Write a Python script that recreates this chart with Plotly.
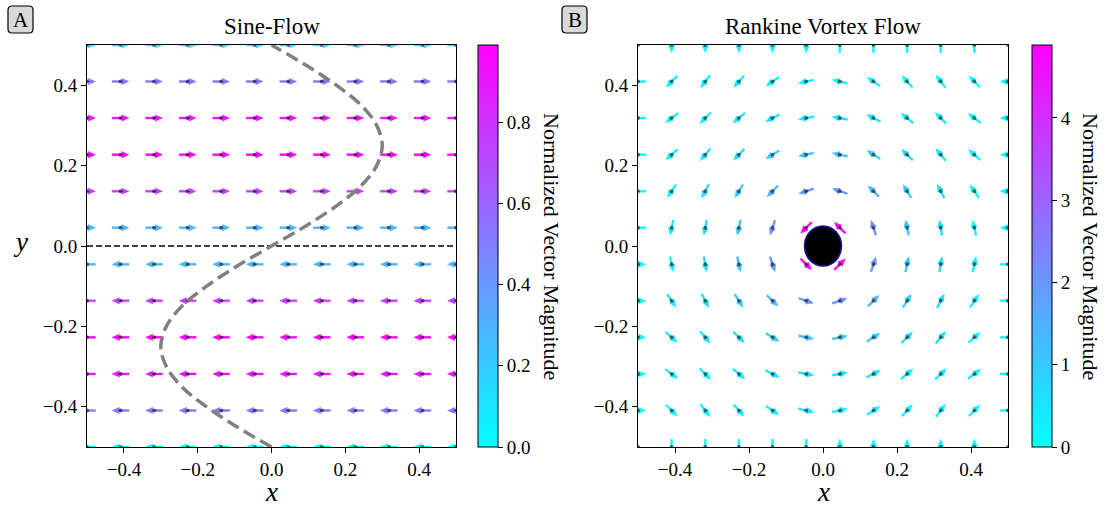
import math
import plotly.graph_objects as go

W, H = 1109, 508
FONT = "Liberation Serif"

# Sample positions shared by both flow fields (x and y)
GRID = [-0.5, -0.4091, -0.3182, -0.2273, -0.1364, -0.0455,
        0.0455, 0.1364, 0.2273, 0.3182, 0.4091, 0.5]

# Sine flow: horizontal speed of each row of GRID (v = 0).
# Signed zeros at the walls keep the sense of the flow there.
SINE_U = [-0.0, -0.541, -0.910, -0.990, -0.756, -0.282,
          0.282, 0.756, 0.990, 0.910, 0.541, 0.0]

# Dashed sine profile
SINE_CURVE_Y = [-0.5, -0.45, -0.4, -0.35, -0.3, -0.25, -0.2, -0.15, -0.1, -0.05, 0.0,
                0.05, 0.1, 0.15, 0.2, 0.25, 0.3, 0.35, 0.4, 0.45, 0.5]
SINE_CURVE_X = [0.0, -0.093, -0.176, -0.243, -0.285, -0.300, -0.285, -0.243, -0.176, -0.093, 0.0,
                0.093, 0.176, 0.243, 0.285, 0.300, 0.285, 0.243, 0.176, 0.093, 0.0]

# Rankine vortex: velocity components, rows = GRID y (bottom to top), cols = GRID x
VORTEX_U = [
    [0, 0, 0, 0, 0, 0, 0, 0, 0, 0, 0, 0],
    [0.087, 0.098, 0.132, 0.186, 0.248, 0.291, 0.291, 0.248, 0.186, 0.132, 0.098, 0.087],
    [0.152, 0.174, 0.243, 0.362, 0.513, 0.632, 0.632, 0.513, 0.362, 0.243, 0.174, 0.152],
    [0.173, 0.203, 0.302, 0.496, 0.804, 1.109, 1.109, 0.804, 0.496, 0.302, 0.203, 0.173],
    [0.138, 0.166, 0.265, 0.500, 1.036, 1.963, 1.963, 1.036, 0.500, 0.265, 0.166, 0.138],
    [0.053, 0.065, 0.109, 0.231, 0.657, 3.455, 3.455, 0.657, 0.231, 0.109, 0.065, 0.053],
    [-0.053, -0.065, -0.109, -0.231, -0.657, -3.455, -3.455, -0.657, -0.231, -0.109, -0.065, -0.053],
    [-0.138, -0.166, -0.265, -0.500, -1.036, -1.963, -1.963, -1.036, -0.500, -0.265, -0.166, -0.138],
    [-0.173, -0.203, -0.302, -0.496, -0.804, -1.109, -1.109, -0.804, -0.496, -0.302, -0.203, -0.173],
    [-0.152, -0.174, -0.243, -0.362, -0.513, -0.632, -0.632, -0.513, -0.362, -0.243, -0.174, -0.152],
    [-0.087, -0.098, -0.132, -0.186, -0.248, -0.291, -0.291, -0.248, -0.186, -0.132, -0.098, -0.087],
    [0, 0, 0, 0, 0, 0, 0, 0, 0, 0, 0, 0],
]
VORTEX_V = [
    [0, -0.087, -0.152, -0.173, -0.138, -0.053, 0.053, 0.138, 0.173, 0.152, 0.087, 0],
    [0, -0.098, -0.174, -0.203, -0.166, -0.065, 0.065, 0.166, 0.203, 0.174, 0.098, 0],
    [0, -0.132, -0.243, -0.302, -0.265, -0.109, 0.109, 0.265, 0.302, 0.243, 0.132, 0],
    [0, -0.186, -0.362, -0.496, -0.500, -0.231, 0.231, 0.500, 0.496, 0.362, 0.186, 0],
    [0, -0.248, -0.513, -0.804, -1.036, -0.657, 0.657, 1.036, 0.804, 0.513, 0.248, 0],
    [0, -0.291, -0.632, -1.109, -1.963, -3.455, 3.455, 1.963, 1.109, 0.632, 0.291, 0],
    [0, -0.291, -0.632, -1.109, -1.963, -3.455, 3.455, 1.963, 1.109, 0.632, 0.291, 0],
    [0, -0.248, -0.513, -0.804, -1.036, -0.657, 0.657, 1.036, 0.804, 0.513, 0.248, 0],
    [0, -0.186, -0.362, -0.496, -0.500, -0.231, 0.231, 0.500, 0.496, 0.362, 0.186, 0],
    [0, -0.132, -0.243, -0.302, -0.265, -0.109, 0.109, 0.265, 0.302, 0.243, 0.132, 0],
    [0, -0.098, -0.174, -0.203, -0.166, -0.065, 0.065, 0.166, 0.203, 0.174, 0.098, 0],
    [0, -0.087, -0.152, -0.173, -0.138, -0.053, 0.053, 0.138, 0.173, 0.152, 0.087, 0],
]
CORE_RADIUS = 0.05

TICKS = [-0.4, -0.2, 0.0, 0.2, 0.4]
CBAR_A_TICKS = [0.0, 0.2, 0.4, 0.6, 0.8]
CBAR_B_TICKS = [0, 1, 2, 3, 4]

COOL = [[0.0, "rgb(0,255,255)"], [1.0, "rgb(255,0,255)"]]

# subplot boxes in pixels (left, right, top, bottom)
BOX_A = (87, 456, 45, 447)
BOX_B = (638, 1008, 45, 447)


def cool(t):
    t = min(max(t, 0.0), 1.0)
    return "rgb(%d,%d,255)" % (round(255 * t), round(255 * (1 - t)))


def px2paper_x(px):
    return px / W


def px2paper_y(py):
    return 1 - py / H


def arrow_traces(xs, ys, us, vs, vmax, box, length, xa, ya, skip_zero):
    """Unit-length filled quiver arrows (pivot at the middle), coloured by speed."""
    sx = (box[1] - box[0]) / 1.0
    sy = (box[3] - box[2]) / 1.0
    w, hw, hl, hal = 2.0, 6.5, 7.5, 6.8
    L = length
    outline = [(-L / 2, -w / 2), (L / 2 - hal, -w / 2), (L / 2 - hl, -hw / 2), (L / 2, 0.0),
               (L / 2 - hl, hw / 2), (L / 2 - hal, w / 2), (-L / 2, w / 2), (-L / 2, -w / 2)]
    groups = {}
    for x, y, u, v in zip(xs, ys, us, vs):
        if skip_zero and u == 0 and v == 0:
            continue
        ang = math.atan2(v, u)
        ca, sa = math.cos(ang), math.sin(ang)
        col = cool(math.hypot(u, v) / vmax)
        gx, gy = groups.setdefault(col, ([], []))
        for s, t in outline:
            gx.append(x + (s * ca - t * sa) / sx)
            gy.append(y + (s * sa + t * ca) / sy)
        gx.append(None)
        gy.append(None)
    traces = []
    for col, (gx, gy) in groups.items():
        traces.append(go.Scatter(x=gx, y=gy, mode="lines", fill="toself", fillcolor=col,
                                 line=dict(width=0.4, color=col), xaxis=xa, yaxis=ya,
                                 hoverinfo="skip", showlegend=False))
    return traces


def colorbar_trace(vmax, x_px, ticks, fmt):
    return go.Scatter(
        x=[None], y=[None], mode="markers", hoverinfo="skip", showlegend=False,
        marker=dict(color=[0], cmin=0, cmax=vmax, colorscale=COOL, showscale=True,
                    colorbar=dict(x=px2paper_x(x_px), xanchor="left", xref="paper",
                                  y=px2paper_y(246), yanchor="middle", yref="paper",
                                  len=(BOX_A[3] - BOX_A[2]) / H, lenmode="fraction",
                                  xpad=0, ypad=0,
                                  thickness=20, outlinewidth=1, outlinecolor="black",
                                  ticks="outside", ticklen=5, tickwidth=1, tickcolor="black",
                                  tickvals=ticks, tickformat=fmt,
                                  tickfont=dict(family=FONT, size=19, color="black"))))


fig = go.Figure()

# ---- Panel A: sine flow ----
ax, ay, au, av = [], [], [], []
for yi, u in zip(GRID, SINE_U):
    for xi in GRID:
        ax.append(xi)
        ay.append(yi)
        au.append(u)
        av.append(0.0)
vmax_a = max(abs(u) for u in SINE_U)
for tr in arrow_traces(ax, ay, au, av, vmax_a, BOX_A, 17.0, "x", "y", False):
    fig.add_trace(tr)
fig.add_trace(go.Scatter(x=ax, y=ay, mode="markers", xaxis="x", yaxis="y",
                         marker=dict(size=4, color="rgba(0,0,0,0.55)", line=dict(width=0)),
                         hoverinfo="skip", showlegend=False))
fig.add_trace(go.Scatter(x=[GRID[0], GRID[-1]], y=[0, 0], mode="lines", xaxis="x", yaxis="y",
                         line=dict(color="black", width=1.3, dash="6px,3px"),
                         hoverinfo="skip", showlegend=False))
fig.add_trace(go.Scatter(x=SINE_CURVE_X, y=SINE_CURVE_Y, mode="lines", xaxis="x", yaxis="y",
                         line=dict(color="#808080", width=3.5, dash="13px,6px", shape="spline"),
                         hoverinfo="skip", showlegend=False))
fig.add_trace(colorbar_trace(vmax_a, 478, CBAR_A_TICKS, ".1f"))

# ---- Panel B: Rankine vortex ----
bx, by, bu, bv = [], [], [], []
for r, yi in enumerate(GRID):
    for c, xi in enumerate(GRID):
        bx.append(xi)
        by.append(yi)
        bu.append(VORTEX_U[r][c])
        bv.append(VORTEX_V[r][c])
vmax_b = max(math.hypot(u, v) for u, v in zip(bu, bv))
for tr in arrow_traces(bx, by, bu, bv, vmax_b, BOX_B, 15.5, "x2", "y2", True):
    fig.add_trace(tr)
fig.add_trace(go.Scatter(x=bx, y=by, mode="markers", xaxis="x2", yaxis="y2",
                         marker=dict(size=4, color="rgba(0,0,0,0.55)", line=dict(width=0)),
                         hoverinfo="skip", showlegend=False))
fig.add_trace(colorbar_trace(vmax_b, 1032, CBAR_B_TICKS, "d"))

axis_common = dict(range=[-0.5, 0.5], showgrid=False, zeroline=False, showline=True, mirror=True,
                   linecolor="black", linewidth=1, ticks="outside", ticklen=5, tickwidth=1,
                   tickcolor="black", tickvals=TICKS, tickformat=".1f",
                   tickfont=dict(family=FONT, size=19, color="black"))
ydom = [px2paper_y(BOX_A[3]), px2paper_y(BOX_A[2])]
fig.update_layout(
    width=W, height=H, margin=dict(l=0, r=0, t=0, b=0),
    paper_bgcolor="white", plot_bgcolor="white", showlegend=False,
    xaxis=dict(domain=[px2paper_x(BOX_A[0]), px2paper_x(BOX_A[1])], anchor="y", **axis_common),
    yaxis=dict(domain=ydom, anchor="x", **axis_common),
    xaxis2=dict(domain=[px2paper_x(BOX_B[0]), px2paper_x(BOX_B[1])], anchor="y2", **axis_common),
    yaxis2=dict(domain=ydom, anchor="x2", **axis_common),
)

# vortex core
fig.add_shape(type="circle", xref="x2", yref="y2", x0=-CORE_RADIUS, x1=CORE_RADIUS,
              y0=-CORE_RADIUS, y1=CORE_RADIUS, fillcolor="black",
              line=dict(color="#1414a0", width=1.5), layer="above")


def rounded_box(x0, y0, x1, y1, r):
    def p(x, y):
        return "%.5f,%.5f" % (px2paper_x(x), px2paper_y(y))
    return ("M " + p(x0 + r, y0) + " L " + p(x1 - r, y0) + " Q " + p(x1, y0) + " " + p(x1, y0 + r) +
            " L " + p(x1, y1 - r) + " Q " + p(x1, y1) + " " + p(x1 - r, y1) +
            " L " + p(x0 + r, y1) + " Q " + p(x0, y1) + " " + p(x0, y1 - r) +
            " L " + p(x0, y0 + r) + " Q " + p(x0, y0) + " " + p(x0 + r, y0) + " Z")


for (x0, label) in [(8, "A"), (562, "B")]:
    fig.add_shape(type="path", xref="paper", yref="paper", path=rounded_box(x0, 6, x0 + 25, 33, 4),
                  fillcolor="#d9d9d9", line=dict(color="black", width=1.2), layer="above")
    fig.add_annotation(x=px2paper_x(x0 + 12.5), y=px2paper_y(19.5), xref="paper", yref="paper",
                       text=label, showarrow=False, xanchor="center", yanchor="middle",
                       font=dict(family=FONT, size=21, color="black"))


def text(x, y, s, size, angle=0):
    fig.add_annotation(x=px2paper_x(x), y=px2paper_y(y), xref="paper", yref="paper", text=s,
                       showarrow=False, xanchor="center", yanchor="middle", textangle=angle,
                       font=dict(family=FONT, size=size, color="black"))


text(271.5, 26, "Sine-Flow", 23)
text(823, 26, "Rankine Vortex Flow", 23)
text(271.5, 492, "<i>x</i>", 27)
text(823, 492, "<i>x</i>", 27)
text(20, 242, "<i>y</i>", 27)
text(552, 246, "Normalized Vector Magnitude", 22, 90)
text(1091, 246, "Normalized Vector Magnitude", 22, 90)

fig.write_html("out.html")
